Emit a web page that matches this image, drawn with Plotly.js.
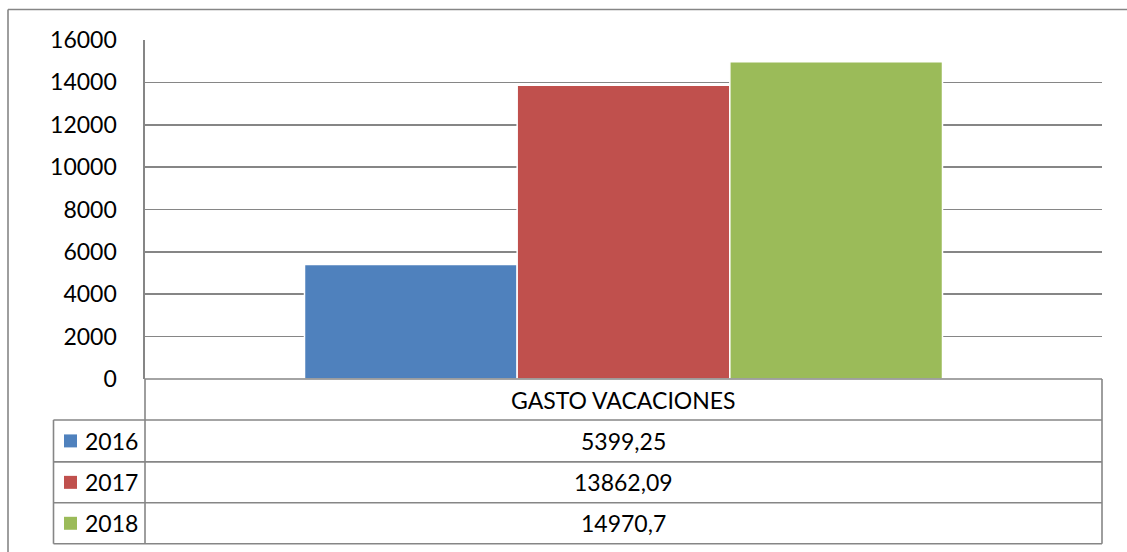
<!DOCTYPE html>
<html>
<head>
<meta charset="utf-8">
<script src="https://cdn.plot.ly/plotly-3.0.1.min.js"></script>
<style>html,body{margin:0;padding:0;background:#fff;overflow:hidden;}#chart{width:1127px;height:552px;}</style>
</head>
<body>
<div id="chart"></div>
<script>
const category = 'GASTO VACACIONES';
const seriesNames = ['2016', '2017', '2018'];
const seriesValues = [5399.25, 13862.09, 14970.7];
const seriesColors = ['#4F81BD', '#C0504D', '#9BBB59'];
const yTicks = [0, 2000, 4000, 6000, 8000, 10000, 12000, 14000, 16000];

const W = 1127, H = 552;
const L = 145, R = 1102, T = 39.5, B = 379;
const px = x => (x - L) / (R - L);
const py = y => (B - y) / (B - T);
const gridColor = '#868686';
const FONT = 'Lato, "Open Sans", sans-serif';
const FS = 23;

const traces = seriesNames.map((n, i) => ({
  type: 'bar',
  name: n,
  x: [category],
  y: [seriesValues[i]],
  marker: {color: seriesColors[i], line: {color: '#ffffff', width: 1.5}},
  hoverinfo: 'skip'
}));

const rowTops = [379, 420, 462, 503, 544];
const shapes = [];
const annotations = [];
const line = (x0, y0, x1, y1) => shapes.push({type: 'line', xref: 'paper', yref: 'paper',
  x0: px(x0), y0: py(y0), x1: px(x1), y1: py(y1), line: {color: gridColor, width: 1.6}});

// outer chart border (left and top edges visible)
line(8, 9, 1140, 9);
line(8, 9, 8, 570);

// data table lines
line(L, 379, R, 379);
line(53.5, 420, R, 420);
line(53.5, 462, R, 462);
line(53.5, 503, R, 503);
line(53.5, 544, R, 544);
line(L, 379, L, 544);
line(R, 379, R, 544);
line(53.5, 420, 53.5, 544);

annotations.push({xref: 'paper', yref: 'paper', x: 0.5, y: py(400), text: category, showarrow: false,
  xanchor: 'center', yanchor: 'middle', font: {family: FONT, size: FS, color: '#000'}});

seriesNames.forEach((n, i) => {
  const yc = (rowTops[i + 1] + rowTops[i + 2]) / 2;
  annotations.push({xref: 'paper', yref: 'paper', x: 0.5, y: py(yc),
    text: String(seriesValues[i]).replace('.', ','), showarrow: false,
    xanchor: 'center', yanchor: 'middle', font: {family: FONT, size: FS, color: '#000'}});
  annotations.push({xref: 'paper', yref: 'paper', x: px(83), y: py(yc), text: n, showarrow: false,
    xanchor: 'left', yanchor: 'middle', font: {family: FONT, size: FS, color: '#000'}});
  shapes.push({type: 'rect', xref: 'paper', yref: 'paper', x0: px(64), x1: px(77), y0: py(yc - 6.5), y1: py(yc + 6.5),
    fillcolor: seriesColors[i], line: {width: 0}});
});

const layout = {
  width: W, height: H,
  margin: {l: L, r: W - R, t: T, b: H - B, pad: 0},
  paper_bgcolor: '#fff', plot_bgcolor: '#fff',
  showlegend: false,
  barmode: 'group', bargap: 1 / 3, bargroupgap: 0,
  font: {family: FONT, size: FS, color: '#000'},
  xaxis: {showticklabels: false, ticks: '', showgrid: false, zeroline: false, showline: false, fixedrange: true},
  yaxis: {range: [0, 16000], tickvals: yTicks, ticktext: yTicks.map(String), showgrid: true, gridcolor: gridColor, gridwidth: 1.6,
    zeroline: false, showline: true, linecolor: gridColor, linewidth: 1.6, ticks: 'outside', ticklen: 22,
    tickcolor: 'rgba(0,0,0,0)', tickfont: {family: FONT, size: FS, color: '#000'}, fixedrange: true},
  shapes: shapes,
  annotations: annotations
};

Plotly.newPlot('chart', traces, layout, {displayModeBar: false, staticPlot: true});
</script>
</body>
</html>
